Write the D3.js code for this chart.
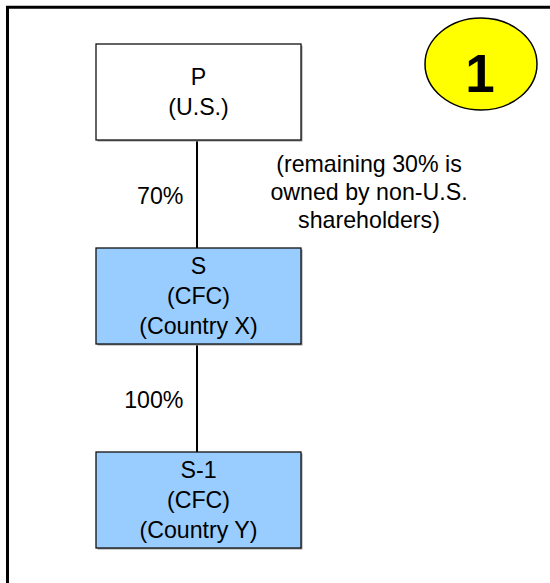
<!DOCTYPE html>
<html>
<head>
<meta charset="utf-8">
<script src="https://cdn.jsdelivr.net/npm/d3@7"></script>
<style>
  html, body { margin: 0; padding: 0; background: #fff; }
  svg { display: block; }
  text { font-family: Arial, "Liberation Sans", sans-serif; fill: #000; }
</style>
</head>
<body>
<svg id="chart"></svg>
<script>
// entities, top to bottom
const names = ["P", "S", "S-1"];
const subLabels = [["(U.S.)"], ["(CFC)", "(Country X)"], ["(CFC)", "(Country Y)"]];
const isCFC = [false, true, true];

// ownership links between consecutive levels
const ownership = ["70%", "100%"];

// side note and example number
const noteLines = ["(remaining 30% is", "owned by non-U.S.", "shareholders)"];
const exampleNumber = "1";

const W = 550, H = 583;
const boxW = 205, boxH = 96;
const lineH = 30;
const fontSize = "23.2px";

const svg = d3.select("#chart").attr("width", W).attr("height", H);

// frame: top and left only are visible in the crop
svg.append("path")
  .attr("d", `M7.5,${H} L7.5,7.2 L${W},7.2`)
  .attr("fill", "none")
  .attr("stroke", "#000")
  .attr("stroke-width", 3);

const levels = d3.range(names.length);
const y = d3.scaleLinear().domain([0, levels.length - 1]).range([44, 452]);
const x = d3.scaleLinear().domain([0, 1]).range([96, 96 + boxW]);
const cx = x(0.5);

// links
svg.selectAll(".link")
  .data(ownership)
  .enter()
  .append("line")
  .attr("class", "link")
  .attr("x1", cx - 1.5)
  .attr("x2", cx - 1.5)
  .attr("y1", (d, i) => y(i) + boxH)
  .attr("y2", (d, i) => y(i + 1))
  .attr("stroke", "#000")
  .attr("stroke-width", 2);

svg.selectAll(".pct")
  .data(ownership)
  .enter()
  .append("text")
  .attr("class", "pct")
  .attr("x", cx - 15)
  .attr("y", (d, i) => (y(i) + boxH + y(i + 1)) / 2 + 10)
  .attr("text-anchor", "end")
  .attr("font-size", fontSize)
  .text(d => d);

// boxes
const nodes = svg.selectAll(".node")
  .data(levels)
  .enter()
  .append("g")
  .attr("class", "node")
  .attr("transform", i => `translate(${x(0)},${y(i)})`);

nodes.append("rect")
  .attr("x", 1.5)
  .attr("y", 1.5)
  .attr("width", boxW)
  .attr("height", boxH)
  .attr("fill", "#9a9a9a");

nodes.append("rect")
  .attr("width", boxW)
  .attr("height", boxH)
  .attr("fill", i => isCFC[i] ? "#99ccff" : "#ffffff")
  .attr("stroke", "#111")
  .attr("stroke-width", 1.3);

nodes.each(function (i) {
  const lines = [names[i]].concat(subLabels[i]);
  const first = boxH / 2 - (lines.length - 1) * lineH / 2 + 8;
  d3.select(this).selectAll("text")
    .data(lines)
    .enter()
    .append("text")
    .attr("x", boxW / 2)
    .attr("y", (d, k) => first + k * lineH)
    .attr("text-anchor", "middle")
    .attr("font-size", fontSize)
    .text(d => d);
});

// note on the right
svg.append("g")
  .selectAll("text")
  .data(noteLines)
  .enter()
  .append("text")
  .attr("x", 369)
  .attr("y", (d, i) => 172 + i * 28)
  .attr("text-anchor", "middle")
  .attr("font-size", fontSize)
  .text(d => d);

// example badge
svg.append("ellipse")
  .attr("cx", 481)
  .attr("cy", 64)
  .attr("rx", 56)
  .attr("ry", 46)
  .attr("fill", "#ffff00")
  .attr("stroke", "#000")
  .attr("stroke-width", 1.5);

svg.append("text")
  .attr("x", 480)
  .attr("y", 92)
  .attr("text-anchor", "middle")
  .attr("font-size", "53px")
  .attr("font-weight", "bold")
  .text(exampleNumber);
</script>
</body>
</html>
